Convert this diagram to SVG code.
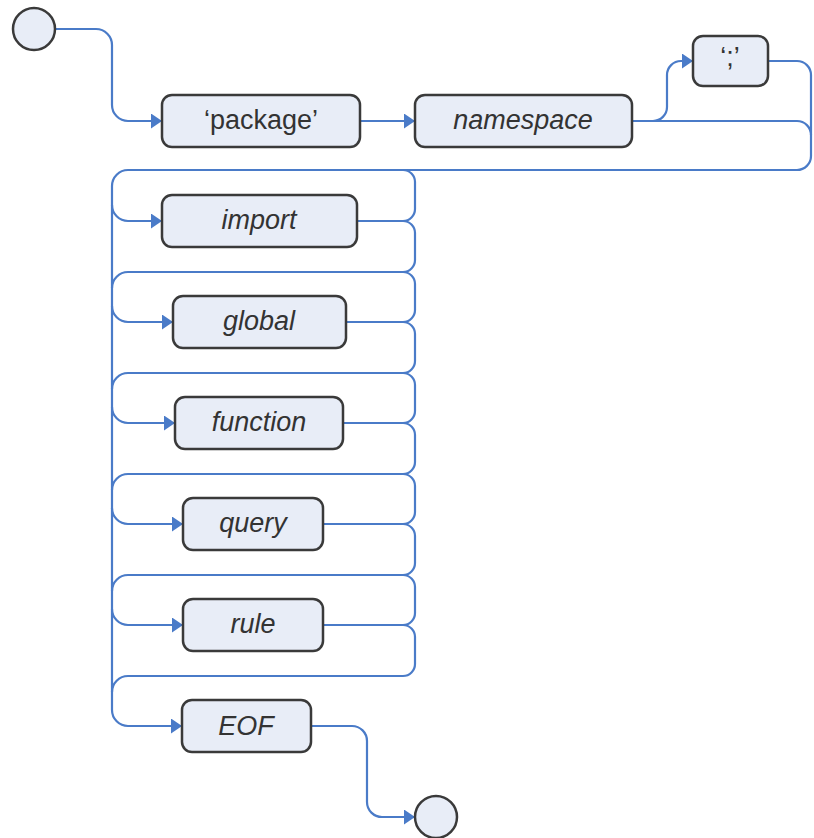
<svg xmlns="http://www.w3.org/2000/svg" width="814" height="838" viewBox="0 0 814 838">
<style>
.c{fill:none;stroke:#4a7bc8;stroke-width:2.2}
.a{marker-end:url(#arr)}
.b{fill:#e8edf7;stroke:#3a3a3a;stroke-width:2.5}
.t{font-family:"Liberation Sans",Arial,sans-serif;font-size:27px;fill:#333;text-anchor:middle}
.i{font-style:italic}
</style>
<defs>
<marker id="arr" viewBox="0 0 11 15" refX="11" refY="7.5" markerWidth="11" markerHeight="15" markerUnits="userSpaceOnUse" orient="auto">
<path d="M0,0 L11,7.5 L0,15 z" fill="#4a7bc8"/>
</marker>
</defs>
<rect width="814" height="838" fill="#fff"/>
<g id="connectors">
<path class="c a" d="M55,29 H96 A16,16 0 0 1 112,45 V105 A16,16 0 0 0 128,121 H162"/>
<path class="c a" d="M360,121 H415"/>
<path class="c" d="M632,121 H797 A14,14 0 0 1 811,135 V156 A14,14 0 0 1 797,170 H128 A16,16 0 0 0 112,186 V710"/>
<path class="c a" d="M653,121 A14,14 0 0 0 667,107 V75 A14,14 0 0 1 681,61 H693"/>
<path class="c" d="M768,61 H797 A14,14 0 0 1 811,75 V135"/>
<path class="c" d="M128,272 H403 M128,373 H403 M128,474 H403 M128,575 H403 M128,676 H403"/>
<path class="c" d="M128,272 A16,16 0 0 0 112,288 M128,373 A16,16 0 0 0 112,389 M128,474 A16,16 0 0 0 112,490 M128,575 A16,16 0 0 0 112,591 M128,676 A16,16 0 0 0 112,692"/>
<path class="c a" d="M112,205 A16,16 0 0 0 128,221 H162"/>
<path class="c a" d="M112,306 A16,16 0 0 0 128,322 H173"/>
<path class="c a" d="M112,407 A16,16 0 0 0 128,423 H175"/>
<path class="c a" d="M112,508 A16,16 0 0 0 128,524 H183"/>
<path class="c a" d="M112,609 A16,16 0 0 0 128,625 H183"/>
<path class="c a" d="M112,710 A16,16 0 0 0 128,726 H182"/>
<path class="c" d="M357,221 H403 M346,322 H403 M343,423 H403 M323,524 H403 M323,625 H403"/>
<path class="c" d="M403,170 A12,12 0 0 1 415,182 V209 A12,12 0 0 1 403,221 A12,12 0 0 1 415,233 V260 A12,12 0 0 1 403,272 A12,12 0 0 1 415,284 V310 A12,12 0 0 1 403,322 A12,12 0 0 1 415,334 V361 A12,12 0 0 1 403,373 A12,12 0 0 1 415,385 V411 A12,12 0 0 1 403,423 A12,12 0 0 1 415,435 V462 A12,12 0 0 1 403,474 A12,12 0 0 1 415,486 V512 A12,12 0 0 1 403,524 A12,12 0 0 1 415,536 V563 A12,12 0 0 1 403,575 A12,12 0 0 1 415,587 V613 A12,12 0 0 1 403,625 A12,12 0 0 1 415,637 V664 A12,12 0 0 1 403,676"/>
<path class="c a" d="M311,726 H352 A15,15 0 0 1 367,741 V802 A15,15 0 0 0 382,817 H415"/>
</g>
<g id="start"><circle class="b" cx="34" cy="29" r="21"/></g>
<g id="package"><rect class="b" x="162" y="95" width="198" height="52" rx="10"/><text class="t" x="261" y="129">‘package’</text></g>
<g id="namespace"><rect class="b" x="415" y="95" width="217" height="52" rx="10"/><text class="t i" x="523" y="129">namespace</text></g>
<g id="semicolon"><rect class="b" x="693" y="36" width="75" height="50" rx="10"/><text class="t" x="730" y="66">‘;’</text></g>
<g id="import"><rect class="b" x="162" y="195" width="195" height="52" rx="10"/><text class="t i" x="259" y="229">import</text></g>
<g id="global"><rect class="b" x="173" y="296" width="173" height="52" rx="10"/><text class="t i" x="259" y="330">global</text></g>
<g id="function"><rect class="b" x="175" y="397" width="168" height="52" rx="10"/><text class="t i" x="259" y="431">function</text></g>
<g id="query"><rect class="b" x="183" y="498" width="140" height="52" rx="10"/><text class="t i" x="253" y="532">query</text></g>
<g id="rule"><rect class="b" x="183" y="599" width="140" height="52" rx="10"/><text class="t i" x="253" y="633">rule</text></g>
<g id="eof"><rect class="b" x="182" y="700" width="129" height="52" rx="10"/><text class="t i" x="246" y="735">EOF</text></g>
<g id="end"><circle class="b" cx="436" cy="817" r="21"/></g>
</svg>
